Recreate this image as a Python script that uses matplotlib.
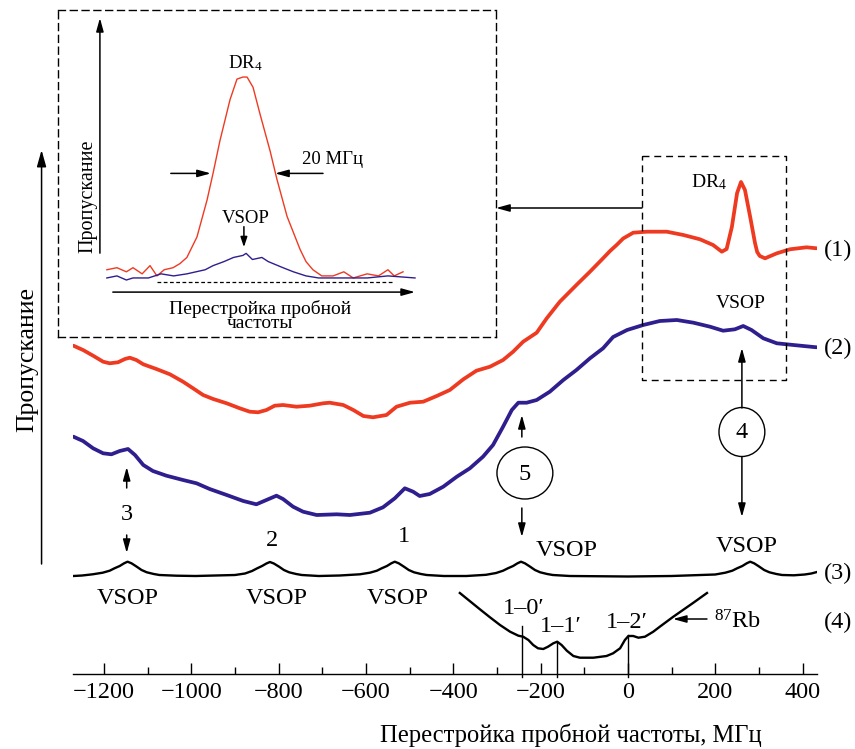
import matplotlib
matplotlib.use('Agg')
import matplotlib.pyplot as plt
from matplotlib.patches import Ellipse

plt.rcParams['font.family'] = 'Liberation Serif'
plt.rcParams['mathtext.fontset'] = 'custom'
plt.rcParams['mathtext.rm'] = 'Liberation Serif'
plt.rcParams['mathtext.it'] = 'Liberation Serif:italic'

# trace (1), red: probe detuning (MHz) and level (picture units, down = larger)
red_x = [-1270, -1248, -1225, -1202, -1187, -1168, -1152, -1141, -1126, -1110, -1080, -1049,
         -1019, -996, -973, -950, -919, -889, -866, -847, -828, -809, -790, -759, -729,
         -698, -683, -652, -629, -606, -584, -553, -530, -499, -469, -438, -408, -377,
         -347, -316, -286, -263, -240, -209, -186, -156, -118, -87, -57, -41, -26, -11,
         12, 43, 89, 127, 165, 195, 215, 226, 238, 250, 259, 268, 280, 291, 296, 302,
         314, 341, 371, 409, 432]
red_y = [345.7, 350, 355.7, 361.7, 363.3, 362.3, 359, 357.7, 360, 364.3, 369, 374.3,
         381.7, 388.3, 395, 399, 403.3, 408.3, 411.7, 412.3, 410, 405.7, 405, 406.7, 405.7,
         403.3, 402.7, 405, 410, 416, 417.3, 415, 406.7, 402.7, 401.7, 396, 390, 379.3,
         370.7, 366.7, 360, 351.7, 341.7, 332.7, 318.3, 301.7, 285, 271.7, 258.3, 251, 245, 238.5,
         232.7, 231.7, 231.7, 235, 239.3, 245, 251.7, 249, 227, 193, 182, 190, 217, 243, 252, 256,
         258.3, 253.3, 249.3, 247.3, 248.3]

# trace (2), blue
blue_x = [-1270, -1248, -1225, -1202, -1183, -1164, -1145, -1129, -1110, -1088, -1057, -1019,
          -988, -958, -919, -881, -851, -828, -805, -790, -767, -744, -713, -667, -637,
          -591, -561, -534, -511, -492, -477, -454, -423, -392, -362, -332, -309, -286,
          -266, -251, -232, -209, -179, -148, -118, -87, -57, -34, -2, 35, 73, 112, 150,
          188, 218, 245, 264, 283, 310, 341, 379, 432]
blue_y = [436.7, 441, 448.3, 453.3, 454.3, 451, 449, 455, 465, 471, 475.7, 480,
          483.3, 489, 495, 501, 504.3, 500, 495.7, 499, 506.7, 511.7, 515, 514.3, 515,
          512.7, 507.3, 498.3, 488.3, 491.7, 496, 494, 486.7, 476.7, 468.3, 456.7, 445, 426.7,
          410, 402.7, 402.7, 400, 391.7, 380, 370, 358.3, 348.3, 337, 330, 325, 321, 320, 322.7,
          326.7, 330.7, 329.3, 326, 330, 338.3, 343.3, 345, 347.3]

# trace (3), VSOP reference
vsop_x = [-1270, -1250, -1226, -1203, -1187, -1176, -1164, -1154, -1146, -1137, -1125, -1114,
          -1102, -1086, -1073, -1034, -990, -900, -877, -861, -850, -838, -828, -820, -811,
          -799, -788, -776, -760, -747, -708, -660, -614, -591, -575, -564, -552, -542,
          -534, -525, -513, -502, -490, -474, -461, -422, -370, -325, -302, -286, -275,
          -263, -253, -245, -236, -224, -213, -201, -185, -172, -133, 0, 100, 200, 223,
          239, 250, 262, 272, 280, 289, 301, 312, 324, 340, 353, 380, 405, 420, 433]
vsop_y = [576, 575.5, 574.3, 572.7, 570.7, 568.3, 566, 563.3, 561.7, 563.3, 566.7, 570,
          572.3, 574, 575, 575.7, 576, 575, 573.5, 571, 568.5, 566, 563.5, 562, 563.5,
          566.7, 570, 572.3, 574, 575, 576, 575.5, 574.3, 572.7, 570.7, 568.3, 566, 563.3,
          561.7, 563.3, 566.7, 570, 572.3, 574, 575, 576, 576, 574.8, 573, 570.7, 568.3,
          566, 563.3, 561.7, 563.3, 566.7, 570, 572.3, 574, 575, 576, 576.5, 576, 574.5, 572.7,
          570.7, 568.3, 566, 563.3, 561.7, 563.3, 566.7, 570, 572.3, 574, 575, 575.3, 574.5,
          573.5, 572]

# trace (4), 87Rb absorption
rb_x = [-385, -339, -316, -293, -270, -251, -240, -228, -217, -206, -194, -183, -171, -162,
        -152, -140, -125, -110, -79, -49, -34, -18, -7, 1, 12, 24, 39, 58, 73, 103, 149, 181]
rb_y = [593, 609.3, 617.3, 625, 631.7, 635.7, 636.7, 640, 645, 648.3, 649, 646.7, 643.3, 641.7,
        645, 650.7, 656, 657.7, 657.7, 656, 653.3, 648.3, 640, 636, 636, 637.7, 636.7, 631.7,
        626.7, 617, 603, 593]
rb_lines = [-243, -163, 0]
rb_line_top = [626, 642, 635]
rb_labels = ['1–0′', '1–1′', '1–2′']

# inset: detuning from DR4 centre (MHz), normalised transmission
ins_red_x = [-43.2, -40.0, -37.0, -34.9, -32.0, -29.5, -27.3, -25.0, -22.2, -20.0, -17.8,
             -14.6, -11.4, -9.5, -7.3, -4.1, -1.9, 0.0, 1.3, 3.2, 5.4, 8.6, 10.8, 14.0,
             18.1, 20.0, 22.2, 25.0, 28.6, 32.0, 35.0, 39.4, 43.0, 46.0, 48.0, 50.8]
ins_red_y = [0.06, 0.07, 0.05, 0.07, 0.04, 0.08, 0.03, 0.06, 0.07, 0.09, 0.12,
             0.22, 0.40, 0.53, 0.69, 0.89, 0.99, 1.00, 1.00, 0.95, 0.82, 0.64, 0.50, 0.32,
             0.16, 0.10, 0.06, 0.03, 0.03, 0.05, 0.02, 0.04, 0.03, 0.06, 0.03, 0.05]
ins_blue_x = [-43.2, -40, -37, -34.9, -30, -26, -22, -17.8, -12, -9.5, -6, -3, 0, 1.0, 3,
              6, 8, 12.7, 16, 20, 24, 28.6, 35, 39.4, 46, 54.6]
ins_blue_y = [0.02, 0.03, 0.01, 0.02, 0.02, 0.04, 0.03, 0.04, 0.06, 0.08, 0.10, 0.12,
              0.13, 0.14, 0.11, 0.12, 0.10, 0.07, 0.05, 0.03, 0.02, 0.02, 0.02, 0.02,
              0.03, 0.02]

major_ticks = [-1200, -1000, -800, -600, -400, -200, 0, 200, 400]
minor_ticks = [-1100, -900, -700, -500, -300, -100, 100, 300]

RED = '#ef3a22'
BLUE = '#2f1e8e'
FS = 17.5
DASH = (0, (5, 3.5))

fig = plt.figure(figsize=(8.55, 7.49), dpi=100)
ax = fig.add_axes([73 / 855, 75 / 749, 744 / 855, 674 / 749])
ax.set_xlim(-1271, 433)
ax.set_ylim(674, 0)
for s in ['top', 'left', 'right']:
    ax.spines[s].set_visible(False)
ax.spines['bottom'].set_linewidth(1.0)
ax.set_yticks([])
ax.set_xticks(major_ticks)
ax.set_xticks(minor_ticks, minor=True)
ax.tick_params(axis='x', which='major', direction='in', length=8, width=1, labelsize=FS, pad=6)
ax.tick_params(axis='x', which='minor', direction='in', length=5, width=1)
ax.patch.set_alpha(0)

ax.plot(red_x, red_y, color=RED, lw=2.7, solid_joinstyle='round', solid_capstyle='round')
ax.plot(blue_x, blue_y, color=BLUE, lw=2.7, solid_joinstyle='round', solid_capstyle='round')
ax.plot(vsop_x, vsop_y, color='k', lw=1.7, solid_joinstyle='round')
ax.plot(rb_x, rb_y, color='k', lw=1.7, solid_joinstyle='round')
for x, top in zip(rb_lines, rb_line_top):
    ax.plot([x, x], [top, 677], color='k', lw=1.0, clip_on=False)
ax.text(-238, 608, rb_labels[0], fontsize=FS, ha='center', va='center')
ax.text(-155, 626, rb_labels[1], fontsize=FS, ha='center', va='center')
ax.text(-2, 623, rb_labels[2], fontsize=FS, ha='center', va='center')
ax.text(252, 622, r'$^{87}$Rb', fontsize=FS, ha='center', va='center')

# curve numbers
for lab, y in [('(1)', 250), ('(2)', 348), ('(3)', 573), ('(4)', 622)]:
    ax.text(481, y, lab, fontsize=FS, ha='center', va='center')

# VSOP labels
for x, y in [(-1146, 598), (-804, 598), (-527, 598), (-140, 550), (273, 546)]:
    ax.text(x, y, 'VSOP', fontsize=FS, ha='center', va='center')
ax.text(259, 303, 'VSOP', fontsize=14, ha='center', va='center')
ax.text(186, 182, r'DR$_4$', fontsize=14, ha='center', va='center')

for lab, x, y in [('3', -1148, 515), ('2', -816, 540), ('1', -513, 537)]:
    ax.text(x, y, lab, fontsize=FS, ha='center', va='center')


def arrow(x0, y0, x1, y1, hl=0.8, hw=0.22):
    ax.annotate('', xy=(x1, y1), xytext=(x0, y0), annotation_clip=False,
                arrowprops=dict(arrowstyle='-|>,head_length=%s,head_width=%s' % (hl, hw),
                                color='k', lw=1.1, shrinkA=0, shrinkB=0))


arrow(181, 619, 103, 619)
arrow(-1148, 488, -1148, 467)
arrow(-1148, 535, -1148, 553)
arrow(-243, 437, -243, 415)
arrow(-243, 508, -243, 537)
arrow(261, 408, 261, 348)
arrow(261, 457, 261, 517)
arrow(32, 208, -302, 208)
arrow(-1343, 564, -1343, 150, hl=1.0, hw=0.28)

ax.add_patch(Ellipse((-236, 473), 128, 52, fill=False, lw=1.0, ec='k', clip_on=False))
ax.text(-236, 474, '5', fontsize=FS, ha='center', va='center')
ax.add_patch(Ellipse((261, 432), 105, 49, fill=False, lw=1.0, ec='k', clip_on=False))
ax.text(261, 433, '4', fontsize=FS, ha='center', va='center')

# dashed frame round the DR4 region
ax.plot([32, 362, 362, 32, 32], [156, 156, 380, 380, 156], color='k', lw=1.0, ls=DASH,
        clip_on=False)

ax.text(-1375, 360, 'Пропускание', fontsize=18.5, rotation=90, ha='center', va='center')
ax.text(-130, 735, 'Перестройка пробной частоты, МГц', fontsize=17.7, ha='center',
        va='center')

# inset
ins = fig.add_axes([58 / 855, (749 - 337) / 749, 438 / 855, 327 / 749])
ins.set_xlim(-58.7, 80.3)
ins.set_ylim(-0.268, 1.327)
ins.set_xticks([])
ins.set_yticks([])
ins.patch.set_alpha(0)
for s in ins.spines.values():
    s.set_linestyle(DASH)
    s.set_linewidth(1.0)
ins.plot(ins_red_x, ins_red_y, color=RED, lw=1.0)
ins.plot(ins_blue_x, ins_blue_y, color=BLUE, lw=1.0)
ins.plot([-27.3, 47.6], [0, 0], color='k', lw=0.9, ls=(0, (3, 2)))


def iarrow(x0, y0, x1, y1, hl=0.8, hw=0.22):
    ins.annotate('', xy=(x1, y1), xytext=(x0, y0),
                 arrowprops=dict(arrowstyle='-|>,head_length=%s,head_width=%s' % (hl, hw),
                                 color='k', lw=1.1, shrinkA=0, shrinkB=0))


iarrow(-45.4, 0.141, -45.4, 1.288)
iarrow(-41.3, -0.049, 54.6, -0.049)
iarrow(-22.9, 0.53, -10.2, 0.53)
iarrow(25.4, 0.53, 10.2, 0.53)
iarrow(0.3, 0.27, 0.3, 0.17, hl=0.6, hw=0.2)
ins.text(0.6, 1.07, r'DR$_4$', fontsize=13.5, ha='center', va='center')
ins.text(28.3, 0.60, '20 МГц', fontsize=13.5, ha='center', va='center')
ins.text(1.0, 0.31, 'VSOP', fontsize=13.5, ha='center', va='center')
ins.text(-49.2, 0.42, 'Пропускание', fontsize=14.5, rotation=90, ha='center', va='center')
ins.text(5.4, -0.165, 'Перестройка пробной\nчастоты', fontsize=14, ha='center',
         va='center', linespacing=0.8)

fig.savefig('out.png', dpi=100)
